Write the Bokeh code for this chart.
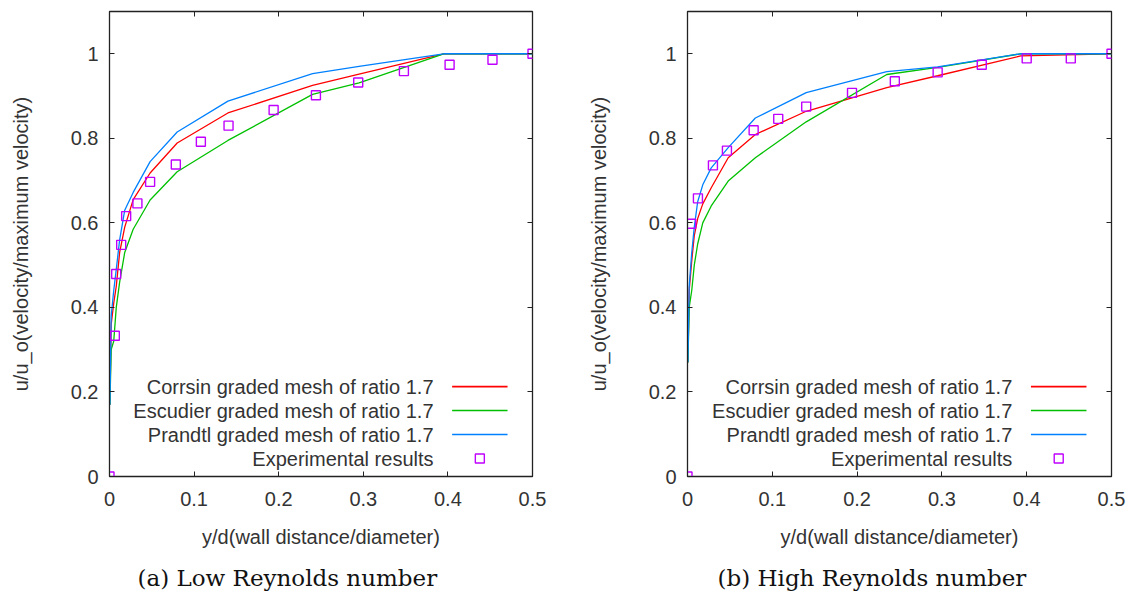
from bokeh.plotting import figure
from bokeh.layouts import row
from bokeh.models import FixedTicker, LinearAxis, Label, Title, Range1d
from bokeh.embed import file_html
from bokeh.resources import INLINE

# ---------------- data ----------------
series_names = ["Corrsin graded mesh of ratio 1.7",
                "Escudier graded mesh of ratio 1.7",
                "Prandtl graded mesh of ratio 1.7",
                "Experimental results"]

# (a) Low Reynolds number
low_x = [0.0005, 0.002, 0.005, 0.008, 0.012, 0.018, 0.028, 0.048, 0.08, 0.14, 0.24, 0.295, 0.395, 0.5]
low_corrsin = [0.17, 0.36, 0.41, 0.45, 0.53, 0.59, 0.655, 0.718, 0.789, 0.86, 0.925, 0.952, 1.0, 1.0]
low_escudier = [0.17, 0.30, 0.32, 0.40, 0.46, 0.53, 0.585, 0.654, 0.721, 0.795, 0.904, 0.931, 1.0, 1.0]
low_prandtl = [0.17, 0.38, 0.44, 0.49, 0.56, 0.63, 0.672, 0.745, 0.815, 0.888, 0.953, 0.97, 1.0, 1.0]
low_exp_x = [0.0, 0.0063, 0.0079, 0.0138, 0.0197, 0.033, 0.048, 0.0784, 0.108, 0.1407, 0.194, 0.244, 0.294, 0.348, 0.402, 0.4527, 0.5]
low_exp_u = [0.0, 0.333, 0.479, 0.548, 0.616, 0.646, 0.697, 0.738, 0.792, 0.830, 0.867, 0.902, 0.932, 0.959, 0.974, 0.986, 1.0]

# (b) High Reynolds number
high_x = [0.0005, 0.002, 0.005, 0.008, 0.012, 0.018, 0.028, 0.048, 0.08, 0.14, 0.235, 0.295, 0.393, 0.5]
high_corrsin = [0.27, 0.44, 0.51, 0.57, 0.61, 0.645, 0.683, 0.754, 0.809, 0.864, 0.92, 0.948, 0.995, 1.0]
high_escudier = [0.27, 0.40, 0.44, 0.50, 0.55, 0.60, 0.64, 0.699, 0.754, 0.839, 0.951, 0.968, 1.0, 1.0]
high_prandtl = [0.27, 0.45, 0.53, 0.59, 0.65, 0.69, 0.73, 0.778, 0.848, 0.908, 0.958, 0.969, 1.0, 1.0]
high_exp_x = [0.0, 0.0044, 0.0123, 0.030, 0.0465, 0.078, 0.107, 0.140, 0.194, 0.2445, 0.295, 0.347, 0.400, 0.452, 0.5]
high_exp_u = [0.0, 0.598, 0.658, 0.736, 0.771, 0.819, 0.846, 0.875, 0.9075, 0.935, 0.956, 0.974, 0.989, 0.989, 1.0]

x_ticks = [0, 0.1, 0.2, 0.3, 0.4, 0.5]
x_tick_labels = ["0", "0.1", "0.2", "0.3", "0.4", "0.5"]
y_ticks = [0, 0.2, 0.4, 0.6, 0.8, 1.0]
y_tick_labels = ["0", "0.2", "0.4", "0.6", "0.8", "1"]

x_label = "y/d(wall distance/diameter)"
y_label = "u/u_o(velocity/maximum velocity)"
captions = ["(a) Low Reynolds number", "(b) High Reynolds number"]

# ---------------- style ----------------
COLORS = ["#ff0000", "#00c000", "#0080ff", "#c000ff"]
FONT = "Liberation Sans"
TXT = "#333333"
FS = "20px"

# legend layout in data coordinates
LEG_TEXT_X = 0.383
LEG_KEY_X0 = 0.405
LEG_KEY_X1 = 0.4705
LEG_ROWS = [0.2125, 0.156, 0.0992, 0.0425]


def mirror_axis(ticks):
    return LinearAxis(ticker=FixedTicker(ticks=ticks), major_label_text_font_size="1px",
                      major_label_text_color=None, major_label_standoff=0,
                      major_tick_in=5, major_tick_out=0, minor_tick_line_color=None,
                      axis_line_color=None, major_tick_line_color="#222222")


def make_panel(xs, c, e, pr, ex, eu, caption, left_border, right_border, frame_w, cap_offset):
    p = figure(frame_width=frame_w, frame_height=465,
               min_border_left=left_border, min_border_right=right_border,
               min_border_top=11, min_border_bottom=122,
               x_range=Range1d(0, 0.5), y_range=Range1d(0, 1.1),
               output_backend="svg", toolbar_location=None)
    p.background_fill_color = "white"
    p.border_fill_color = "white"
    p.grid.visible = False
    p.outline_line_color = "#222222"
    p.outline_line_width = 1.3

    for ax, ticks, labels in ((p.xaxis[0], x_ticks, x_tick_labels), (p.yaxis[0], y_ticks, y_tick_labels)):
        ax.ticker = FixedTicker(ticks=ticks)
        ax.major_label_overrides = {t: l for t, l in zip(ticks, labels)}
        ax.major_tick_in = 5
        ax.major_tick_out = 0
        ax.minor_tick_line_color = None
        ax.axis_line_color = "#222222"
        ax.major_tick_line_color = "#222222"
        ax.major_label_text_font = FONT
        ax.major_label_text_font_size = FS
        ax.major_label_text_color = TXT
        ax.axis_label_text_font = FONT
        ax.axis_label_text_font_size = FS
        ax.axis_label_text_font_style = "normal"
        ax.axis_label_text_color = TXT
    p.xaxis.axis_label = x_label
    p.yaxis.axis_label = y_label
    p.xaxis.major_label_standoff = 15
    p.xaxis.axis_label_standoff = 17
    p.yaxis.major_label_standoff = 11
    p.yaxis.axis_label_standoff = 36

    # mirrored ticks on top and right
    p.add_layout(mirror_axis(x_ticks), "above")
    p.add_layout(mirror_axis(y_ticks), "right")

    p.line(xs, c, line_color=COLORS[0], line_width=1.3)
    p.line(xs, e, line_color=COLORS[1], line_width=1.3)
    p.line(xs, pr, line_color=COLORS[2], line_width=1.3)
    p.scatter(ex, eu, marker="square", size=9, fill_color=None,
              line_color=COLORS[3], line_width=1.4)

    # legend (text on the left, key on the right, like gnuplot)
    for i, name in enumerate(series_names):
        p.add_layout(Label(x=LEG_TEXT_X, y=LEG_ROWS[i], text=name, text_align="right",
                           text_baseline="middle", text_font=FONT, text_font_size=FS,
                           text_color=TXT))
    p.segment(x0=[LEG_KEY_X0] * 3, x1=[LEG_KEY_X1] * 3, y0=LEG_ROWS[:3], y1=LEG_ROWS[:3],
              line_color=COLORS[:3], line_width=1.6)
    p.scatter([(LEG_KEY_X0 + LEG_KEY_X1) / 2], [LEG_ROWS[3]], marker="square", size=9,
              fill_color=None, line_color=COLORS[3], line_width=1.4)

    p.add_layout(Title(text=caption, align="left", offset=cap_offset, standoff=24,
                       text_font="DejaVu Serif", text_font_size="23px",
                       text_font_style="normal", text_color="#111111"), "below")
    return p


p1 = make_panel(low_x, low_corrsin, low_escudier, low_prandtl, low_exp_x, low_exp_u,
                captions[0], 109, 33, 423, 28)
p2 = make_panel(high_x, high_corrsin, high_escudier, high_prandtl, high_exp_x, high_exp_u,
                captions[1], 122, 20, 424, 30)

layout = row(p1, p2)
open("out.html", "w").write(file_html(layout, INLINE))
